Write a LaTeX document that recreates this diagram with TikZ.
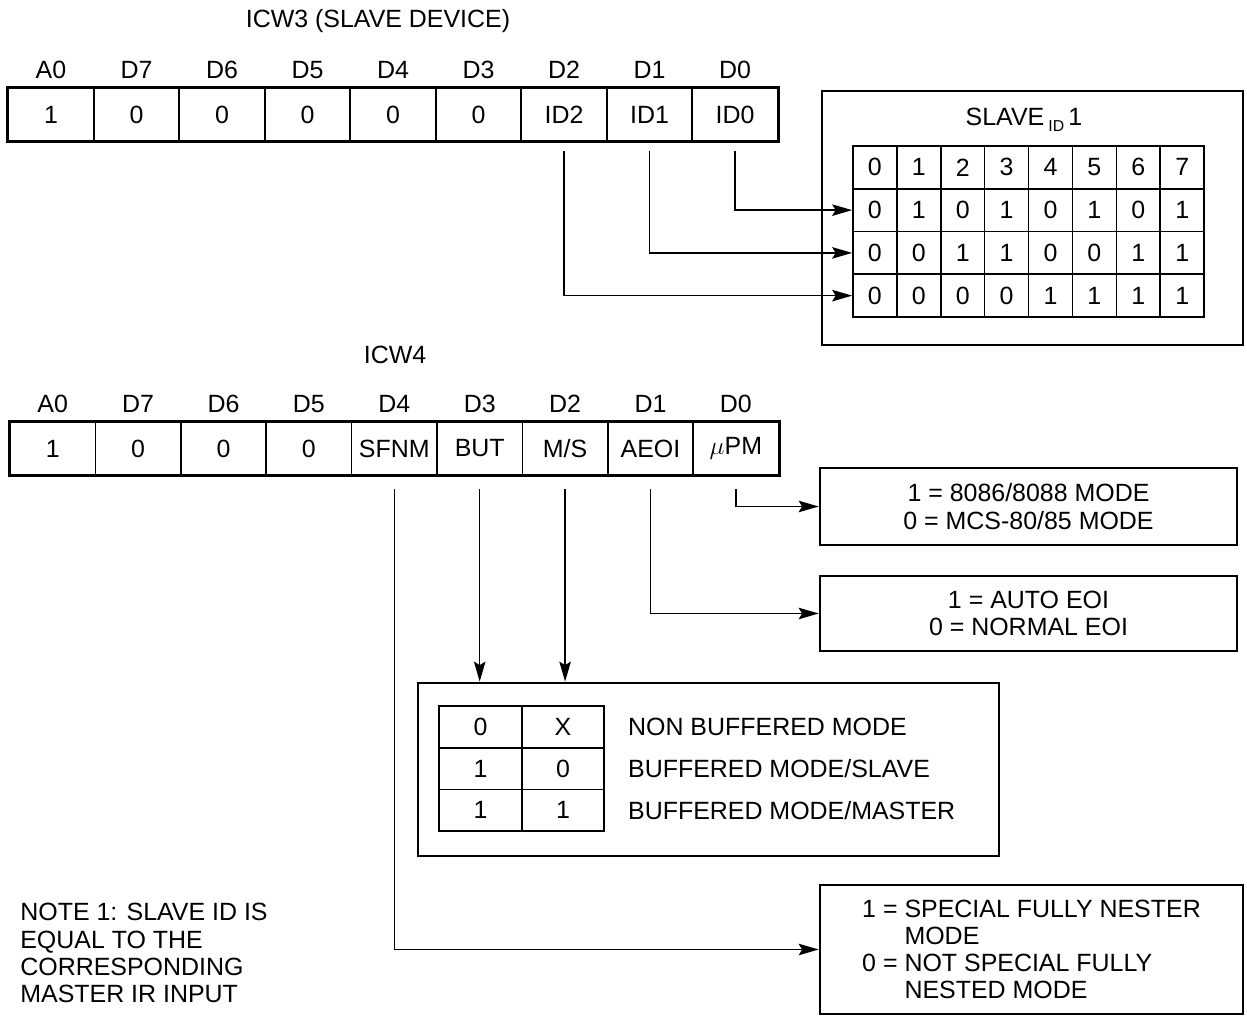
\documentclass[tikz,border=0pt]{standalone}
\usepackage{fontspec}
\setmainfont{Liberation Sans}
\usetikzlibrary{arrows.meta,positioning}

\begin{document}
\begin{tikzpicture}[x=0.02cm,y=-0.02cm,font=\fontsize{14.2}{15.5}\selectfont,
  >={Stealth[length=4mm,width=2.3mm,inset=0.7mm]},
  reg/.style={draw,line width=0.9pt,minimum width=1.71cm,minimum height=1.06cm,inner sep=0pt},
  bit/.style={draw,line width=0.9pt,minimum width=0.878cm,minimum height=0.855cm,inner sep=0pt},
  buf/.style={draw,line width=0.9pt,minimum width=1.65cm,minimum height=0.834cm,inner sep=0pt},
  frame/.style={draw,line width=1.6pt,inner sep=0pt},
  link/.style={->,line width=0.9pt}]

\useasboundingbox (0,0) rectangle (1247,1016);

\node (t3) at (378,21) {ICW3 (SLAVE DEVICE)};
\foreach \h/\v [count=\i from 0] in {A0/1,D7/0,D6/0,D5/0,D4/0,D3/0,D2/ID2,D1/ID1,D0/ID0} {
  \node[reg] (r3c\i) at ({51+85.5*\i},114.5) {\v};
  \node (h3c\i) at ({51+85.5*\i},70) {\h};
}
\draw[line width=1.8pt] (r3c0.north west) rectangle (r3c8.south east);

\node[frame,minimum width=8.42cm,minimum height=5.08cm] (slave) at (1032.5,218) {};
\node (sid) at (1024,120) {SLAVE\,\raisebox{-0.5ex}{\small ID}\,1};
\foreach \row [count=\r from 0] in {{0,1,2,3,4,5,6,7},{0,1,0,1,0,1,0,1},{0,0,1,1,0,0,1,1},{0,0,0,0,1,1,1,1}}
  \foreach \b [count=\j from 0] in \row
    \node[bit] (s\r\j) at ({874.9+43.9*\j},{167.4+42.75*\r}) {\b};

\foreach \c/\r in {8/1,7/2,6/3}
  \draw[link,shorten <=0.18cm] (r3c\c.south) |- (s\r0.west);

\node (t4) at (395,355) {ICW4};
\foreach \h/\v [count=\i from 0] in {A0/1,D7/0,D6/0,D5/0,D4/SFNM,D3/BUT,D2/{M/S},D1/AEOI,D0/{$\mu$PM}} {
  \node[reg] (r4c\i) at ({52.7+85.4*\i},448.5) {\v};
  \node (h4c\i) at ({52.7+85.4*\i},404) {\h};
}
\draw[line width=1.8pt] (r4c0.north west) rectangle (r4c8.south east);

\node[frame,minimum width=8.34cm,minimum height=1.54cm,align=center] (pm) at (1028.5,506.5)
  {1 = 8086/8088 MODE\\0 = MCS-80/85 MODE};
\node[frame,minimum width=8.34cm,minimum height=1.5cm,align=center] (eoi) at (1028.5,613.5)
  {1 = AUTO EOI\\0 = NORMAL EOI};

\node[frame,minimum width=11.62cm,minimum height=3.46cm] (mode) at (708.5,769.5) {};
\foreach \a/\b/\t [count=\r from 0] in {0/X/{NON BUFFERED MODE},1/0/{BUFFERED MODE/SLAVE},1/1/{BUFFERED MODE/MASTER}} {
  \node[buf] (b\r0) at (480.5,{727+41.7*\r}) {\a};
  \node[buf] (b\r1) at (563,{727+41.7*\r}) {\b};
  \node[right=0.455cm of b\r1,inner sep=0pt] (bt\r) {\t};
}

\node[frame,minimum width=8.46cm,minimum height=2.58cm,align=left] (sfnm) at (1031.5,949.5)
  {1 = SPECIAL FULLY NESTER\\\phantom{1 = }MODE\\0 = NOT SPECIAL FULLY\\\phantom{0 = }NESTED MODE};

\draw[link,shorten <=0.26cm] (r4c8.south) |- (pm.west);
\draw[link,shorten <=0.26cm] (r4c7.south) |- (eoi.west);
\foreach \c in {5,6}
  \draw[link,shorten <=0.26cm] (r4c\c.south) -- (r4c\c.south |- mode.north);
\draw[link,shorten <=0.26cm] (r4c4.south) |- (sfnm.west);

\node[align=left,anchor=north west,inner sep=0pt] (note) at (20,903)
  {NOTE 1: SLAVE ID IS\\EQUAL TO THE\\CORRESPONDING\\MASTER IR INPUT};
\end{tikzpicture}
\end{document}
